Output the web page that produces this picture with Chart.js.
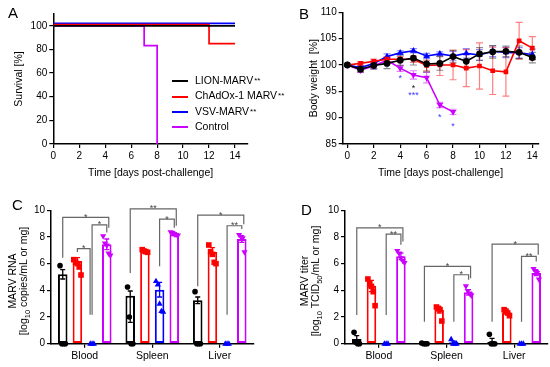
<!DOCTYPE html>
<html>
<head>
<meta charset="utf-8">
<script src="https://cdn.jsdelivr.net/npm/chart.js@4.4.1/dist/chart.umd.min.js"></script>
<style>
  body { margin: 0; background: #fff; font-family: "Liberation Sans", Arial, Helvetica, sans-serif; }
  #fig { position: relative; width: 550px; height: 367px; overflow: hidden; background: #fff; }
  canvas { position: absolute; }
  .tag { position: absolute; font-size: 15px; line-height: 1; }
  #legendA { position: absolute; left: 172px; top: 73px; font-size: 10.5px; white-space: nowrap; z-index: 2; }
  .lg-row { height: 15.3px; line-height: 15.3px; }
  .lg-line { display: inline-block; width: 16px; height: 2px; vertical-align: middle; margin-right: 7px; }
  .lg-sig { font-size: 8px; position: relative; top: -1px; margin-left: 1px; }
  .ytitle { position: absolute; width: 150px; height: 22px; font-size: 10.5px; line-height: 11px; color: #000;
            text-align: center; transform: rotate(-90deg); transform-origin: 50% 50%; white-space: nowrap; }
  .ytitle .sb { font-size: 7.5px; position: relative; top: 2.5px; }
</style>
</head>
<body>
<div id="fig">
  <canvas id="chartA" width="275" height="183" style="left:0;top:0"></canvas>
  <canvas id="chartB" width="275" height="183" style="left:275px;top:0"></canvas>
  <canvas id="chartC" width="275" height="184" style="left:0;top:183px"></canvas>
  <canvas id="chartD" width="275" height="184" style="left:275px;top:183px"></canvas>
  <div class="tag" style="left:8px;top:5px">A</div>
  <div class="tag" style="left:299px;top:6px">B</div>
  <div class="tag" style="left:12px;top:197px">C</div>
  <div class="tag" style="left:301px;top:202px">D</div>
  <div id="legendA"></div>
  <div class="ytitle" style="left:-57px;top:270px">MARV RNA<br>[log<span class="sb">10</span> copies/mL or mg]</div>
  <div class="ytitle" style="left:235px;top:270px">MARV titer<br>[log<span class="sb">10</span> TCID<span class="sb">50</span>/mL or mg]</div>
</div>
<script>
// ── 共用：組別名稱與顏色 ─────────────────────────────────────
const SERIES     = ["LION-MARV", "ChAdOx-1 MARV", "VSV-MARV", "Control"];
const SERIES_SIG = ["**", "**", "**", ""];
const COLORS     = ["#000000", "#ff0000", "#0000ff", "#cc00ff"];
const ERR_COLORS = ["rgba(0,0,0,0.45)", "rgba(255,0,0,0.5)", "rgba(0,0,255,0.45)", "rgba(204,0,255,0.5)"];
const MARKERS    = ["circle", "rect", "triangle", "triangleDown"];

// ── A：存活曲線（階梯） ──────────────────────────────────────
const survLionDays = [0, 14];      const survLion = [100, 100];
const survChadDays = [0, 12, 14];  const survChad = [101, 85, 85];
const survVsvDays  = [0, 14];      const survVsv  = [102, 102];
const survCtrlDays = [0, 7, 8];    const survCtrl = [100, 83.3, 0];

// ── B：體重變化 ──────────────────────────────────────────────
const DAYS = [0, 1, 2, 3, 4, 5, 6, 7, 8, 9, 10, 11, 12, 13, 14];
const bwLion    = [100, 99.2, 99.9, 100.3, 100.9, 101.3, 100.2, 100.3, 101.6, 100.7, 102.1, 102.5, 102.6, 102.4, 101.4];
const bwLionErr = [0, 0.5, 0.7, 1.0, 1.0, 1.3, 1.5, 1.3, 1.2, 1.3, 1.2, 1.2, 1.0, 1.2, 1.0];
const bwChad    = [100, 100.3, 100.7, 101.1, 101.1, 101.1, 99.9, 100, 100, 99.4, 99.8, 98.9, 98.7, 104.6, 103.2];
const bwChadErr = [0, 0.3, 0.4, 0.5, 0.5, 0.6, 1.0, 2.0, 2.8, 3.5, 4.4, 4.5, 4.6, 3.5, 2.2];
const bwVsv     = [100, 99.5, 100.3, 101.6, 102.3, 102.7, 101.7, 102.1, 101.7, 102.2, 101.9, 102.6, 102.4, 102.3, 102.0];
const bwVsvErr  = [0, 0.4, 0.5, 0.5, 0.4, 0.4, 0.5, 0.4, 0.9, 0.9, 1.0, 1.0, 1.0, 1.0, 1.0];
const bwCtrl    = [100, 99.0, 99.8, 100.9, 99.4, 98.1, 97.6, 92.4, 91.1];
const bwCtrlErr = [0, 0.4, 0.5, 0.5, 0.6, 0.8, 1.0, 0.5, 0.5];
// 顯著性星號（day, 體重值, 文字, 組別）
const bwStars = [
  { x: 4, y: 97.9, t: "*",   s: 2 },
  { x: 5, y: 96.1, t: "*",   s: 0 },
  { x: 5, y: 94.7, t: "***", s: 2 },
  { x: 7, y: 90.5, t: "*",   s: 2 },
  { x: 8, y: 88.8, t: "*",   s: 2 },
];

// ── C / D：器官病毒量 ────────────────────────────────────────
const ORGANS = ["Blood", "Spleen", "Liver"];

const rnaLion     = [5.2, 3.6, 3.25];
const rnaChad     = [6.2, 6.95, 6.9];
const rnaVsv      = [0, 4.05, 0];
const rnaCtrl     = [7.45, 8.2, 7.85];
const rnaLionErr  = [[4.85, 5.55], [1.6, 3.95], [3.0, 3.5]];
const rnaChadErr  = [[5.95, 6.45], [6.85, 7.05], [6.6, 7.2]];
const rnaVsvErr   = [[0, 0], [3.5, 4.6], [0, 0]];
const rnaCtrlErr  = [[7.05, 7.85], [8.1, 8.3], [7.6, 8.1]];
const rnaLionPts  = [[5.85, 0, 0, 0], [4.25, 2.0, 0, 0], [3.9, 0, 0, 0]];
const rnaChadPts  = [[6.3, 6.1, 6.0, 5.75, 5.15], [7.05, 6.95, 6.9, 6.85], [7.4, 6.9, 6.7, 6.1, 6.0]];
const rnaVsvPts   = [[0, 0, 0], [4.7, 4.45, 3.0, 2.45, 2.4], [0, 0, 0]];
const rnaCtrlPts  = [[8.05, 7.5, 7.35, 6.75, 6.6], [8.35, 8.3, 8.2, 8.15, 8.1], [8.15, 8.0, 7.9, 6.85]];
const rnaBrackets = [
  { g: 0, a: 0, b: 3, y: 9.47, ya: 6.45, yb: 8.7,  t: "*" },
  { g: 0, a: 2, b: 3, y: 8.91, ya: 2.17, yb: 8.34, t: "*" },
  { g: 0, a: 1, b: 2, y: 7.13, ya: 6.87, yb: 2.17, t: "*" },
  { g: 1, a: 0, b: 3, y: 10.1, ya: 5.3,  yb: 8.84, t: "**" },
  { g: 1, a: 2, b: 3, y: 9.34, ya: 5.8,  yb: 8.7,  t: "*" },
  { g: 2, a: 0, b: 3, y: 9.64, ya: 4.3,  yb: 8.96, t: "*" },
  { g: 2, a: 2, b: 3, y: 8.84, ya: 2.17, yb: 8.6,  t: "**" },
];

const titLion     = [0.35, 0.05, 0.15];
const titChad     = [4.35, 2.55, 2.35];
const titVsv      = [0, 0.1, 0];
const titCtrl     = [6.55, 3.85, 5.3];
const titLionErr  = [[0.1, 0.6], [0, 0.1], [0, 0.4]];
const titChadErr  = [[3.9, 4.75], [2.3, 2.75], [2.2, 2.5]];
const titVsvErr   = [[0, 0], [0, 0.2], [0, 0]];
const titCtrlErr  = [[6.3, 6.8], [3.65, 4.05], [5.1, 5.5]];
const titLionPts  = [[0.85, 0.1, 0, 0], [0.05, 0, 0, 0], [0.7, 0, 0, 0]];
const titChadPts  = [[4.85, 4.5, 4.3, 3.9, 2.85], [2.75, 2.65, 2.55, 1.7], [2.55, 2.45, 2.3, 2.1]];
const titVsvPts   = [[0, 0, 0], [0.35, 0, 0, 0], [0, 0, 0]];
const titCtrlPts  = [[6.95, 6.75, 6.4, 6.2, 6.05], [4.3, 3.95, 3.75, 3.6], [5.6, 5.45, 5.3, 4.8]];
const titBrackets = [
  { g: 0, a: 0, b: 3, y: 8.68, ya: 2.16, yb: 7.67, t: "*" },
  { g: 0, a: 2, b: 3, y: 8.22, ya: 2.16, yb: 7.42, t: "**" },
  { g: 1, a: 0, b: 3, y: 5.79, ya: 1.65, yb: 4.9,  t: "*" },
  { g: 1, a: 2, b: 3, y: 5.17, ya: 1.65, yb: 4.79, t: "*" },
  { g: 2, a: 0, b: 3, y: 7.47, ya: 1.65, yb: 6.67, t: "*" },
  { g: 2, a: 2, b: 3, y: 6.54, ya: 1.65, yb: 6.17, t: "**" },
];

// ── Chart.js 預設 ───────────────────────────────────────────
const FONT = '"Liberation Sans", Arial, Helvetica, sans-serif';
Chart.defaults.font.family = FONT;
Chart.defaults.font.size = 10;
Chart.defaults.color = "#000";
Chart.defaults.animation = false;

const NO_PLUGINS = { legend: { display: false }, tooltip: { enabled: false } };

function axis(type, min, max, step, fit, title) {
  return {
    type, min, max,
    afterFit: fit,
    grid:   { drawOnChartArea: false, color: "#000", lineWidth: 1.2, tickLength: 4, offset: false },
    border: { color: "#000", width: 1.5 },
    ticks:  { stepSize: step, includeBounds: false, padding: 2, color: "#000", font: { size: 10 } },
    title:  title ? Object.assign({ display: true, color: "#000", font: { size: 10.5 } }, title) : { display: false },
  };
}
const fitW = w => s => { s.width = w; };
const fitH = h => s => { s.height = h; };

function drawMarker(ctx, style, x, y, r, color) {
  ctx.fillStyle = color;
  ctx.beginPath();
  if (style === "circle") {
    ctx.arc(x, y, r, 0, Math.PI * 2);
  } else if (style === "rect") {
    ctx.rect(x - r, y - r, 2 * r, 2 * r);
  } else if (style === "triangle") {
    ctx.moveTo(x, y - r * 1.2); ctx.lineTo(x + r * 1.1, y + r * 0.75); ctx.lineTo(x - r * 1.1, y + r * 0.75);
  } else {
    ctx.moveTo(x, y + r * 1.2); ctx.lineTo(x + r * 1.1, y - r * 0.75); ctx.lineTo(x - r * 1.1, y - r * 0.75);
  }
  ctx.closePath();
  ctx.fill();
}

// ── A 圖例（HTML） ───────────────────────────────────────────
const legendEl = document.getElementById("legendA");
SERIES.forEach((name, i) => {
  const row = document.createElement("div");
  row.className = "lg-row";
  row.innerHTML = `<span class="lg-line" style="background:${COLORS[i]}"></span>${name}<span class="lg-sig">${SERIES_SIG[i]}</span>`;
  legendEl.appendChild(row);
});

// ── A：存活 ─────────────────────────────────────────────────
const survSets = [
  [survLionDays, survLion], [survChadDays, survChad], [survVsvDays, survVsv], [survCtrlDays, survCtrl],
];
new Chart(document.getElementById("chartA"), {
  type: "line",
  data: {
    datasets: survSets.map(([days, vals], i) => ({
      label: SERIES[i],
      data: days.map((d, j) => ({ x: d, y: vals[j] })),
      borderColor: COLORS[i], borderWidth: 1.7, pointRadius: 0, stepped: true, fill: false,
    })),
  },
  options: {
    responsive: false, devicePixelRatio: 1,
    layout: { padding: { left: 0, top: 14, right: 27, bottom: 0 } },
    scales: {
      x: axis("linear", 0, 15, 2, fitH(39), { text: "Time [days post-challenge]", padding: { top: 0, bottom: 3.4 } }),
      y: axis("linear", 0, 110, 20, fitW(53.3), { text: "Survival [%]", padding: { top: 12.7, bottom: 0 } }),
    },
    plugins: NO_PLUGINS,
  },
});

// ── B：體重 ─────────────────────────────────────────────────
const bwSets = [[bwLion, bwLionErr], [bwChad, bwChadErr], [bwVsv, bwVsvErr], [bwCtrl, bwCtrlErr]];
const weightExtras = {
  id: "weightExtras",
  beforeDatasetsDraw(chart) {
    const { ctx, scales: { x, y } } = chart;
    ctx.save();
    ctx.lineWidth = 1.2;
    for (let i = bwSets.length - 1; i >= 0; i--) {
      const [vals, errs] = bwSets[i];
      ctx.strokeStyle = ERR_COLORS[i];
      vals.forEach((v, j) => {
        if (!errs[j]) return;
        const px = x.getPixelForValue(DAYS[j]);
        const y1 = y.getPixelForValue(v + errs[j]);
        const y2 = y.getPixelForValue(v - errs[j]);
        ctx.beginPath();
        ctx.moveTo(px, y1); ctx.lineTo(px, y2);
        ctx.moveTo(px - 3.5, y1); ctx.lineTo(px + 3.5, y1);
        ctx.moveTo(px - 3.5, y2); ctx.lineTo(px + 3.5, y2);
        ctx.stroke();
      });
    }
    ctx.restore();
  },
  afterDatasetsDraw(chart) {
    const { ctx, scales: { x, y } } = chart;
    ctx.save();
    ctx.font = `9px ${FONT}`;
    ctx.textAlign = "center";
    ctx.textBaseline = "alphabetic";
    bwStars.forEach(st => {
      ctx.fillStyle = st.s === 2 ? "#3a3aff" : "#222";
      ctx.fillText(st.t, x.getPixelForValue(st.x), y.getPixelForValue(st.y) + 5);
    });
    ctx.restore();
  },
};
new Chart(document.getElementById("chartB"), {
  type: "line",
  data: {
    datasets: bwSets.map(([vals], i) => ({
      label: SERIES[i],
      data: vals.map((v, j) => ({ x: DAYS[j], y: v })),
      borderColor: COLORS[i], backgroundColor: COLORS[i], borderWidth: 1.6,
      pointStyle: i === 3 ? "triangle" : MARKERS[i], rotation: i === 3 ? 180 : 0,
      pointRadius: i === 1 ? 3.3 : (i === 0 ? 3.4 : 3.8), pointBorderWidth: 0,
      fill: false, tension: 0,
    })),
  },
  options: {
    responsive: false, devicePixelRatio: 1,
    layout: { padding: { left: 0, top: 12.3, right: 11.7, bottom: 0 } },
    scales: {
      x: axis("linear", -0.35, 14.45, 2, fitH(39), { text: "Time [days post-challenge]", padding: { top: 0, bottom: 3.4 } }),
      y: axis("linear", 85, 110, 5, fitW(67.7), { text: "Body weight  [%]", padding: { top: 33, bottom: 0 } }),
    },
    plugins: NO_PLUGINS,
  },
  plugins: [weightExtras],
});

// ── C / D：長條 + 散點 + 顯著性括號 ──────────────────────────
function barPanel(canvasId, means, errs, pts, brackets, left, rightPad) {
  const extras = {
    id: "barExtras",
    afterDatasetsDraw(chart) {
      const { ctx, scales: { y } } = chart;
      const barX = (d, g) => chart.getDatasetMeta(d).data[g].x;
      ctx.save();
      // 誤差線
      ctx.lineWidth = 1.3;
      errs.forEach((set, d) => set.forEach(([lo, hi], g) => {
        if (hi - lo <= 0) return;
        const px = barX(d, g), y1 = y.getPixelForValue(hi), y2 = y.getPixelForValue(lo);
        ctx.strokeStyle = COLORS[d];
        ctx.beginPath();
        ctx.moveTo(px, y1); ctx.lineTo(px, y2);
        ctx.moveTo(px - 2.5, y1); ctx.lineTo(px + 2.5, y1);
        ctx.moveTo(px - 2.5, y2); ctx.lineTo(px + 2.5, y2);
        ctx.stroke();
      }));
      // 個體資料點
      pts.forEach((set, d) => set.forEach((vals, g) => {
        vals.forEach((v, k) => {
          const dx = (k - (vals.length - 1) / 2) * 1.8;
          drawMarker(ctx, MARKERS[d], barX(d, g) + dx, y.getPixelForValue(v), 2.8, COLORS[d]);
        });
      }));
      // 括號
      ctx.strokeStyle = "#666";
      ctx.fillStyle = "#444";
      ctx.lineWidth = 1.2;
      ctx.font = `9px ${FONT}`;
      ctx.textAlign = "center";
      brackets.forEach(br => {
        const shiftB = br.b - br.a > 1 ? 2 : (br.b === 2 ? -2 : 0);
        const xa = barX(br.a, br.g), xb = barX(br.b, br.g) + shiftB;
        const yt = y.getPixelForValue(br.y);
        ctx.beginPath();
        ctx.moveTo(xa, y.getPixelForValue(br.ya));
        ctx.lineTo(xa, yt);
        ctx.lineTo(xb, yt);
        ctx.lineTo(xb, y.getPixelForValue(br.yb));
        ctx.stroke();
        ctx.fillText(br.t, (xa + xb) / 2, yt + 2.5);
      });
      ctx.restore();
    },
  };
  return new Chart(document.getElementById(canvasId), {
    type: "bar",
    data: {
      labels: ORGANS,
      datasets: means.map((vals, i) => ({
        label: SERIES[i], data: vals,
        backgroundColor: "#fff", borderColor: COLORS[i], borderWidth: 2, borderSkipped: false,
        barPercentage: 0.65, categoryPercentage: 0.87,
      })),
    },
    options: {
      responsive: false, devicePixelRatio: 1,
      layout: { padding: { left: 0, top: 27.3, right: rightPad, bottom: 0 } },
      scales: {
        x: Object.assign(axis("category", undefined, undefined, undefined, fitH(23.3)),
                         { ticks: { padding: 2, color: "#000", font: { size: 10.5 } } }),
        y: axis("linear", 0, 10, 2, fitW(left)),
      },
      plugins: NO_PLUGINS,
    },
    plugins: [extras],
  });
}

barPanel("chartC",
  [rnaLion, rnaChad, rnaVsv, rnaCtrl],
  [rnaLionErr, rnaChadErr, rnaVsvErr, rnaCtrlErr],
  [rnaLionPts, rnaChadPts, rnaVsvPts, rnaCtrlPts],
  rnaBrackets, 51, 21.5);

barPanel("chartD",
  [titLion, titChad, titVsv, titCtrl],
  [titLionErr, titChadErr, titVsvErr, titCtrlErr],
  [titLionPts, titChadPts, titVsvPts, titCtrlPts],
  titBrackets, 70, 2);
</script>
</body>
</html>
